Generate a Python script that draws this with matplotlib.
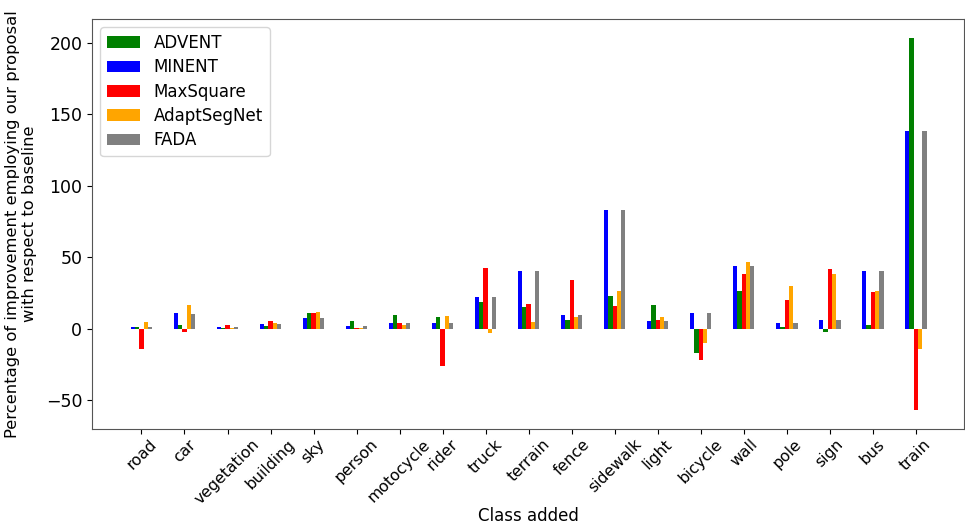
import matplotlib
matplotlib.use("Agg")
import matplotlib.pyplot as plt
import numpy as np

classes = ["road", "car", "vegetation", "building", "sky", "person", "motocycle",
           "rider", "truck", "terrain", "fence", "sidewalk", "light", "bicycle",
           "wall", "pole", "sign", "bus", "train"]

minent = [1.0, 11.0, 1.0, 3.2, 7.4, 2.1, 4.4, 4.0, 22.2, 40.6, 9.6, 83.2, 5.2, 11.4,
          44.0, 4.0, 6.5, 40.4, 138.0]
advent = [1.0, 2.8, 0.5, 2.1, 11.0, 5.8, 9.8, 8.4, 19.0, 15.3, 5.9, 23.3, 16.6, -16.6,
          26.6, 1.2, -2.5, 2.6, 203.5]
maxsquare = [-14.0, -2.0, 2.5, 5.8, 11.0, 0.5, 4.4, -25.9, 42.2, 17.1, 34.5, 15.9, 6.3, -21.7,
             38.0, 20.3, 41.9, 25.6, -56.6]
adaptsegnet = [5.1, 17.0, 0.3, 4.2, 11.9, 0.5, 3.0, 9.1, -2.8, 4.6, 8.0, 26.3, 8.0, -10.0,
               46.4, 30.1, 38.4, 26.5, -14.0]
fada = [1.0, 10.7, 1.0, 3.2, 7.4, 2.1, 4.4, 4.0, 22.2, 40.6, 9.6, 83.2, 5.2, 11.4,
        44.0, 4.0, 6.5, 40.4, 138.0]

series_names = ["MINENT", "ADVENT", "MaxSquare", "AdaptSegNet", "FADA"]
series_vals = [minent, advent, maxsquare, adaptsegnet, fada]
series_colors = ["blue", "green", "red", "orange", "grey"]
legend_order = ["ADVENT", "MINENT", "MaxSquare", "AdaptSegNet", "FADA"]

plt.rcParams["font.family"] = "DejaVu Sans"
fig = plt.figure(figsize=(9.65, 5.28), dpi=100)
ax = fig.add_axes([92 / 965, 1 - 429 / 528, (964 - 92) / 965, (429 - 19) / 528])

x = np.arange(len(classes))
w = 0.1
handles = {}
for i, (name, vals, col) in enumerate(zip(series_names, series_vals, series_colors)):
    b = ax.bar(x + (i - 2) * w, vals, width=w, color=col, label=name)
    handles[name] = b

ax.set_xlim(-1.15, 19.12)
ax.set_ylim(-70, 216.6)
ax.set_xticks(x)
ax.set_xticklabels(classes, rotation=45, fontsize=11.3)
ax.tick_params(axis="y", labelsize=12.5)
ax.tick_params(axis="x", pad=2)
ax.set_yticks([-50, 0, 50, 100, 150, 200])
ax.set_xlabel("Class added", fontsize=12, labelpad=0)
ax.set_ylabel("Percentage of improvement employing our proposal\nwith respect to baseline",
              fontsize=11.8, labelpad=6)
for s in ax.spines.values():
    s.set_color("#555555")

ax.legend([handles[n] for n in legend_order], legend_order, loc="upper left", fontsize=12,
          borderaxespad=0.5, labelspacing=0.38)

fig.savefig("out.png", dpi=100)
